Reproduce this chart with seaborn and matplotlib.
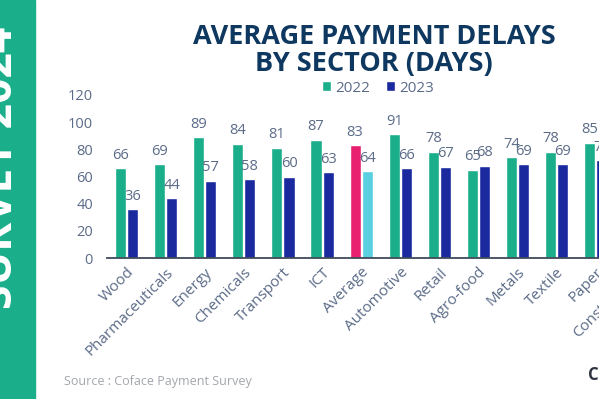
import matplotlib
matplotlib.use('Agg')
import matplotlib.pyplot as plt
import pandas as pd
import seaborn as sns
from matplotlib.patches import Rectangle

sectors = ['Wood', 'Pharmaceuticals', 'Energy', 'Chemicals', 'Transport', 'ICT', 'Average',
           'Automotive', 'Retail', 'Agro-food', 'Metals', 'Textile', 'Paper', 'Construction']
days_2022 = [66, 69, 89, 84, 81, 87, 83, 91, 78, 65, 74, 78, 85, 86]
days_2023 = [36, 44, 57, 58, 60, 63, 64, 66, 67, 68, 69, 69, 72, 75]
years = ['2022', '2023']

green = '#1BAE8B'
navy = '#1A2A9E'
pink = '#E8206F'
cyan = '#5ACFE0'
text_col = '#5B6B88'
title_col = '#0F3860'

df = pd.DataFrame({
    'sector': sectors * 2,
    'days': days_2022 + days_2023,
    'year': [years[0]] * len(sectors) + [years[1]] * len(sectors),
})

sns.set_theme(style='white')
plt.rcParams['font.family'] = ['Open Sans', 'DejaVu Sans']

W, H = 599, 399
fig = plt.figure(figsize=(W / 100, H / 100), dpi=100)

# axes: x from 107px, baseline at 258px, 120 at 95px, 39px per sector
left = 107 / W
bottom = 1 - 258 / H
height = 163 / H
width = 39.1 * len(sectors) / W
ax = fig.add_axes([left, bottom, width, height])

sns.barplot(data=df, x='sector', y='days', hue='year', order=sectors, hue_order=years,
            palette=[green, navy], width=0.62, gap=0.08, saturation=1, ax=ax)

# highlight the average bars
avg = sectors.index('Average')
ax.containers[0][avg].set_facecolor(pink)
ax.containers[1][avg].set_facecolor(cyan)

for cont in ax.containers:
    ax.bar_label(cont, padding=4, color=text_col, fontsize=10.5)

ax.set_xlim(-0.5, len(sectors) - 0.5)
ax.set_ylim(0, 120)
ax.set_yticks(range(0, 121, 20))
ax.set_xlabel('')
ax.set_ylabel('')
for s in ['top', 'right', 'left']:
    ax.spines[s].set_visible(False)
ax.spines['bottom'].set_color('#3F4A5A')
ax.spines['bottom'].set_linewidth(1.3)
ax.tick_params(axis='y', length=0, pad=10, labelcolor=text_col, labelsize=10.5)
ax.tick_params(axis='x', length=0, pad=5, labelcolor=text_col, labelsize=11)
plt.setp(ax.get_xticklabels(), rotation=45, ha='right', rotation_mode='anchor')

handles, labels = ax.get_legend_handles_labels()
ax.legend(handles, labels, ncol=2, frameon=False, loc='center',
          bbox_to_anchor=(378 / W, 1 - 88 / H), bbox_transform=fig.transFigure,
          handlelength=0.6, handleheight=0.6, handletextpad=0.3, columnspacing=1.0,
          fontsize=11, labelcolor=text_col)

fig.text(374 / W, 1 - 50 / H, 'AVERAGE PAYMENT DELAYS\nBY SECTOR (DAYS)', ha='center', va='center',
         fontsize=19.5, fontweight='bold', color=title_col, linespacing=1.05)

# left banner
fig.patches.append(Rectangle((0, 0), 35 / W, 1, transform=fig.transFigure, color='#1BAE8B', zorder=0))
fig.text(1 / W, 1 - 168 / H, 'SURVEY 2024', rotation=90, ha='center', va='center',
         fontsize=32, fontweight='bold', color='white')

fig.text(64 / W, 1 - 381 / H, 'Source : Coface Payment Survey', ha='left', va='center',
         fontsize=9, color='#A3A6AC')
fig.text(588 / W, 1 - 375 / H, 'Coface', ha='left', va='center',
         fontsize=12, fontweight='bold', color='#2E3440')

fig.savefig('out.png', dpi=100)
